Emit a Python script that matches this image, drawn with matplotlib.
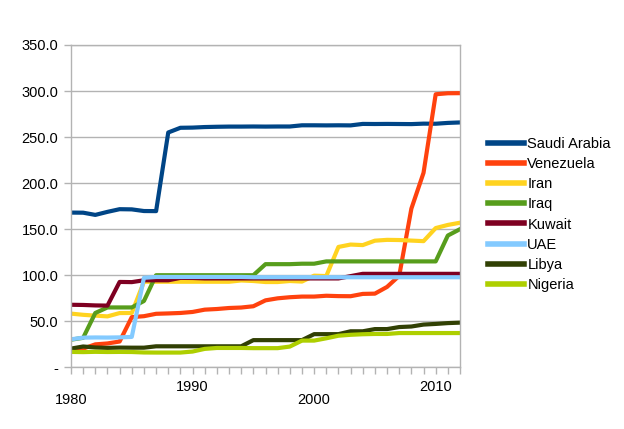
import numpy as np
import matplotlib.pyplot as plt
from matplotlib.ticker import FixedLocator, FuncFormatter

plt.rcParams['font.family'] = ['Liberation Sans', 'DejaVu Sans']

years = list(range(1980, 2013))

# proved oil reserves
saudi = [168.0, 167.9, 165.5, 168.8, 171.7, 171.5, 169.7, 169.6, 255.0, 260.1,
         260.3, 260.9, 261.2, 261.4, 261.4, 261.5, 261.4, 261.5, 261.5, 262.8,
         262.8, 262.7, 262.8, 262.7, 264.3, 264.2, 264.3, 264.2, 264.1, 264.6,
         264.5, 265.4, 265.9]
venezuela = [19.5, 20.3, 24.9, 25.9, 28.0, 54.5, 55.5, 58.1, 58.5, 59.0,
             60.1, 62.6, 63.3, 64.4, 64.9, 66.3, 72.7, 74.9, 76.1, 76.8,
             76.8, 77.7, 77.3, 77.2, 79.7, 80.0, 87.3, 99.4, 172.3, 211.2,
             296.5, 297.6, 297.7]
iran = [58.3, 57.0, 56.1, 55.3, 58.9, 59.0, 92.9, 92.9, 92.9, 92.9,
        92.9, 92.9, 92.9, 92.9, 94.3, 93.7, 92.6, 92.6, 93.7, 93.1,
        99.5, 99.1, 130.7, 133.3, 132.7, 137.5, 138.4, 138.2, 137.6, 137.0,
        151.2, 154.6, 157.0]
iraq = [30.0, 32.0, 59.0, 65.0, 65.0, 65.0, 72.0, 100.0, 100.0, 100.0,
        100.0, 100.0, 100.0, 100.0, 100.0, 100.0, 112.0, 112.0, 112.0, 112.5,
        112.5, 115.0, 115.0, 115.0, 115.0, 115.0, 115.0, 115.0, 115.0, 115.0,
        115.0, 143.1, 150.0]
kuwait = [67.9, 67.7, 67.2, 67.0, 92.7, 92.5, 94.5, 94.5, 94.5, 97.1,
          97.0, 96.5, 96.5, 96.5, 96.5, 96.5, 96.5, 96.5, 96.5, 96.5,
          96.5, 96.5, 96.5, 99.0, 101.5, 101.5, 101.5, 101.5, 101.5, 101.5,
          101.5, 101.5, 101.5]
uae = [30.4, 32.2, 32.4, 32.3, 32.5, 33.0, 97.2, 98.1, 98.1, 98.1,
       98.1, 98.1, 98.1, 98.1, 98.1, 97.8, 97.8, 97.8, 97.8, 97.8,
       97.8, 97.8, 97.8, 97.8, 97.8, 97.8, 97.8, 97.8, 97.8, 97.8,
       97.8, 97.8, 97.8]
libya = [20.3, 22.6, 21.5, 21.1, 21.4, 21.3, 21.3, 22.8, 22.8, 22.8,
         22.8, 22.8, 22.8, 22.8, 22.8, 29.5, 29.5, 29.5, 29.5, 29.5,
         36.0, 36.0, 36.0, 39.1, 39.1, 41.5, 41.5, 43.7, 44.3, 46.4,
         47.1, 48.0, 48.5]
nigeria = [16.7, 16.5, 16.8, 16.6, 16.7, 16.6, 16.1, 16.0, 16.0, 16.0,
           17.1, 20.0, 21.0, 21.0, 21.0, 20.8, 20.8, 20.8, 22.5, 29.0,
           29.0, 31.5, 34.3, 35.3, 35.9, 36.2, 36.2, 37.2, 37.2, 37.2,
           37.2, 37.2, 37.2]

countries = ["Saudi Arabia", "Venezuela", "Iran", "Iraq", "Kuwait", "UAE",
             "Libya", "Nigeria"]
series = [saudi, venezuela, iran, iraq, kuwait, uae, libya, nigeria]
colors = ["#004586", "#ff420e", "#ffd320", "#579d1c", "#7e0021", "#83caff",
          "#314004", "#aecf00"]

fig = plt.figure(figsize=(6.24, 4.29), dpi=100)
ax = fig.add_axes([71 / 624, 1 - 367.3 / 429, (460 - 71) / 624, (367.3 - 45) / 429])

for name, vals, c in zip(countries, series, colors):
    ax.plot(years, vals, color=c, lw=3, label=name, solid_joinstyle='round')

ax.set_xlim(1980, 2012)
ax.set_ylim(0, 350)

grid_c = "#b3b3b3"
ax.set_yticks(np.arange(0, 351, 50))
ax.yaxis.set_major_formatter(FuncFormatter(lambda v, p: "-" if v == 0 else f"{v:.1f}"))
ax.grid(axis='y', color=grid_c, lw=1)
ax.set_axisbelow(True)

ax.set_xticks([1980, 1990, 2000, 2010])
ax.set_xticklabels(["\n1980", "1990", "\n2000", "2010"])
ax.xaxis.set_minor_locator(FixedLocator(years))
for lab in ax.get_xticklabels():
    lab.set_linespacing(0.95)

ax.tick_params(axis='both', colors=grid_c, labelcolor='black', labelsize=10.5,
               length=5, width=1, direction='out')
ax.tick_params(axis='x', which='minor', colors=grid_c, length=5, width=1)
ax.tick_params(axis='x', pad=4)
ax.tick_params(axis='y', pad=4)

for sp in ax.spines.values():
    sp.set_color(grid_c)
    sp.set_linewidth(1)

leg = fig.legend(loc='center left', bbox_to_anchor=(488 / 624, 1 - 214.5 / 429),
                 frameon=False, fontsize=10.5, handlelength=2.45,
                 handletextpad=0.25, labelspacing=0.42, borderpad=0,
                 borderaxespad=0)
for ln in leg.get_lines():
    ln.set_linewidth(4)

fig.savefig("out.png", dpi=100)
